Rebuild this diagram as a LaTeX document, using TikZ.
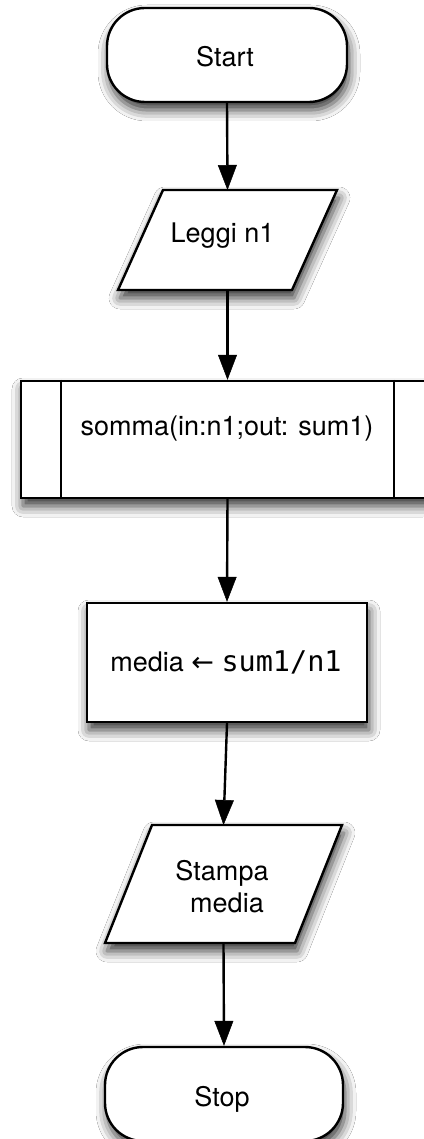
\documentclass[tikz,border=0pt]{standalone}
\usepackage{fontspec}
\setmainfont{TeX Gyre Heros}
\newfontfamily\monofont{DejaVu Sans Mono}
\newfontfamily\symfont{DejaVu Sans}
\usetikzlibrary{arrows.meta,shadows.blur}

\begin{document}
\begin{tikzpicture}[x=1pt,y=-1pt,
  outline/.style={draw=black,line width=2.4pt,fill=white,line join=miter,
    blur shadow={shadow xshift=2pt,shadow yshift=-8pt,shadow blur radius=11pt,shadow opacity=80}},
  terminal/.style={outline,rounded corners=38pt,minimum height=94pt,inner sep=0pt},
  processbox/.style={outline,minimum width=280pt,minimum height=119pt,inner sep=0pt},
  shapeframe/.style={inner sep=0pt,outer sep=0pt},
  flow/.style={draw=black,line width=2.4pt,
    -{Triangle[length=25pt,width=19pt,fill=black,line width=0.5pt]}},
  txt/.style={font=\fontsize{27}{32}\selectfont,anchor=base,inner sep=0pt},
]
\fill[white] (0,0) rectangle (423,1139);
\useasboundingbox (0,0) rectangle (423,1139);

% Start terminal
\node[terminal,minimum width=240pt] (start) at (227,55) {};

% Input: Leggi n1
\node[shapeframe,minimum width=219pt,minimum height=100pt] (leggi) at (227.5,240) {};
\path[outline] (leggi.south west) -- ([xshift=45pt]leggi.north west)
  -- (leggi.north east) -- ([xshift=-45pt]leggi.south east) -- cycle;

% Predefined process (subroutine call)
\node[outline,minimum width=413pt,minimum height=117pt,inner sep=0pt] (sub) at (227.5,439.5) {};
\draw[line width=2.4pt] ([xshift=41pt]sub.north west) -- ([xshift=41pt]sub.south west);
\draw[line width=2.4pt] ([xshift=-41pt]sub.north east) -- ([xshift=-41pt]sub.south east);

% Assignment
\node[processbox] (media) at (227,662.5) {};

% Output: Stampa media
\node[shapeframe,minimum width=237pt,minimum height=118pt] (stampa) at (223.5,884) {};
\path[outline] (stampa.south west) -- ([xshift=47pt]stampa.north west)
  -- (stampa.north east) -- ([xshift=-47pt]stampa.south east) -- cycle;

% Stop terminal
\node[terminal,minimum width=238pt] (stop) at (224,1094) {};

% Flow lines
\draw[flow] (start.south) -- (leggi.north);
\draw[flow] (leggi.south) -- (sub.north);
\draw[flow] (sub.south) -- (media.north);
\draw[flow] (media.south) -- (stampa.north);
\draw[flow] (stampa.south) -- (stop.north);

% Texts
\node[txt] (tstart) at (225,67) {Start};
\node[txt] (tleggi) at (222.5,243) {Leggi n1};
\node[txt] (tsub) at (227,435) {somma(in:n1;out: sum1)};
\node[txt] (tmedia) at (226,671) {media {\symfont ←} {\monofont\fontsize{28.5}{32}\selectfont sum1/n1}};
\node[txt] (tstampa1) at (222,880) {Stampa};
\node[txt] (tstampa2) at (227,912) {media};
\node[txt] (tstop) at (222,1106) {Stop};
\end{tikzpicture}
\end{document}
